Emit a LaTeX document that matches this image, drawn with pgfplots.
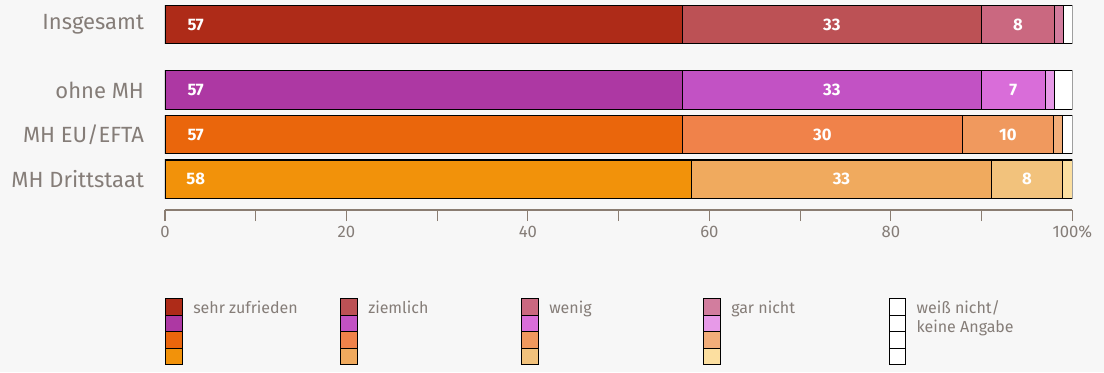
\documentclass[border=0pt]{standalone}
\usepackage{pgfplots}
\pgfplotsset{compat=1.18}
\usepackage{fontspec}
\setmainfont{Fira Sans}

\definecolor{bg}{HTML}{F7F7F7}
\definecolor{txt}{HTML}{857D78}
\definecolor{axc}{HTML}{8A7D72}
% Insgesamt / ohne MH / MH EU/EFTA / MH Drittstaat
\definecolor{iA}{HTML}{AE2B18}\definecolor{iB}{HTML}{BC5155}\definecolor{iC}{HTML}{CA6880}\definecolor{iD}{HTML}{D27D9E}
\definecolor{oA}{HTML}{AD38A3}\definecolor{oB}{HTML}{C252C4}\definecolor{oC}{HTML}{D96DD9}\definecolor{oD}{HTML}{E79AE8}
\definecolor{eA}{HTML}{EA660C}\definecolor{eB}{HTML}{F0824A}\definecolor{eC}{HTML}{F0995E}\definecolor{eD}{HTML}{F2AE7A}
\definecolor{dA}{HTML}{F2920A}\definecolor{dB}{HTML}{F0AA5E}\definecolor{dC}{HTML}{F2C27C}\definecolor{dD}{HTML}{FCDFA0}

\tikzset{barlab/.style={font=\bfseries\fontsize{12.5}{14}\selectfont, text=white, anchor=center, inner sep=0pt}}

\pgfplotsset{
  rowax/.style={
    scale only axis, width=680.5pt, height=157.5pt,
    xmin=0, xmax=100, ymin=-0.69, ymax=4.02,
    xbar stacked, bar width=28.9pt,
    every axis plot/.append style={draw=black, line width=0.8pt},
    visualization depends on=rawx \as \rawx,
    point meta=explicit symbolic,
  },
  hidden/.style={rowax, hide axis},
  % labels sit in the middle of each segment; the first one is moved to the left end
  lab/.style={nodes near coords, every node near coord/.append style={barlab}},
  firstlab/.style={nodes near coords, every node near coord/.append style={barlab, xshift={-\rawx*3.4025pt+23pt}}},
  sq/.style n args={4}{legend image code/.code={
    \draw[fill=#1] (0pt,10.8pt) rectangle (12.5pt,-1.6pt);
    \draw[fill=#2] (0pt,-1.6pt) rectangle (12.5pt,-14pt);
    \draw[fill=#3] (0pt,-14pt) rectangle (12.5pt,-26.4pt);
    \draw[fill=#4] (0pt,-26.4pt) rectangle (12.5pt,-38.8pt);}},
}

\begin{document}
\begin{tikzpicture}
\fill[bg] (-123.75pt,-121.5pt) rectangle (704.25pt,157.5pt);

% Insgesamt + axis + legend
\begin{axis}[rowax,
    axis x line=bottom, axis y line=left,
    x axis line style={-, draw=axc, line width=0.8pt},
    y axis line style={draw=none},
    tick align=outside,
    xtick={0,20,40,60,80,100},
    xticklabels={0,20,40,60,80,100\%},
    minor xtick={10,30,50,70,90},
    major tick length=8.25pt, minor tick length=8.25pt,
    xtick style={draw=axc, line width=0.8pt},
    ytick={0,1,2,3.47},
    yticklabels={MH Drittstaat, MH EU/EFTA, ohne MH, Insgesamt},
    ytick style={draw=none},
    xticklabel style={font=\fontsize{12.5}{14}\selectfont, text=txt},
    yticklabel style={font=\fontsize{16.5}{18}\selectfont, text=txt, xshift=-4pt},
    legend columns=5,
    legend style={at={(0,0)}, anchor=north west, yshift=-66pt,
      draw=none, fill=none, inner sep=0pt, column sep=0pt,
      font=\fontsize{12}{14.5}\selectfont, text=txt,
      nodes={inner sep=0pt}, cells={anchor=base west}},
  ]
  \addplot[fill=iA, firstlab, sq={iA}{oA}{eA}{dA}] coordinates {(57,3.47) [57]};
  \addplot[fill=iB, lab, sq={iB}{oB}{eB}{dB}] coordinates {(33,3.47) [33]};
  \addplot[fill=iC, lab, sq={iC}{oC}{eC}{dC}] coordinates {(8,3.47) [8]};
  \addplot[fill=iD, sq={iD}{oD}{eD}{dD}] coordinates {(1,3.47) []};
  \addplot[fill=white, sq={white}{white}{white}{white}] coordinates {(1,3.47) []};
  \addlegendentry{\hspace{7.7pt}\makebox[110.25pt][l]{sehr zufrieden}}
  \addlegendentry{\hspace{7.7pt}\makebox[114.75pt][l]{ziemlich}}
  \addlegendentry{\hspace{7.7pt}\makebox[115.5pt][l]{wenig}}
  \addlegendentry{\hspace{7.7pt}\makebox[118pt][l]{gar nicht}}
  \addlegendentry{\hspace{7.7pt}\parbox[t]{100pt}{weiß nicht/\\keine Angabe}}
\end{axis}

% ohne MH
\begin{axis}[hidden]
  \addplot[fill=oA, firstlab] coordinates {(57,2) [57]};
  \addplot[fill=oB, lab] coordinates {(33,2) [33]};
  \addplot[fill=oC, lab] coordinates {(7,2) [7]};
  \addplot[fill=oD] coordinates {(1,2) []};
  \addplot[fill=white] coordinates {(2,2) []};
\end{axis}

% MH EU/EFTA
\begin{axis}[hidden]
  \addplot[fill=eA, firstlab] coordinates {(57,1) [57]};
  \addplot[fill=eB, lab] coordinates {(30.9,1) [30]};
  \addplot[fill=eC, lab] coordinates {(10,1) [10]};
  \addplot[fill=eD] coordinates {(1,1) []};
  \addplot[fill=white] coordinates {(1.1,1) []};
\end{axis}

% MH Drittstaat
\begin{axis}[hidden]
  \addplot[fill=dA, firstlab] coordinates {(58,0) [58]};
  \addplot[fill=dB, lab] coordinates {(33.1,0) [33]};
  \addplot[fill=dC, lab] coordinates {(7.8,0) [8]};
  \addplot[fill=dD] coordinates {(1.1,0) []};
\end{axis}
\end{tikzpicture}
\end{document}
